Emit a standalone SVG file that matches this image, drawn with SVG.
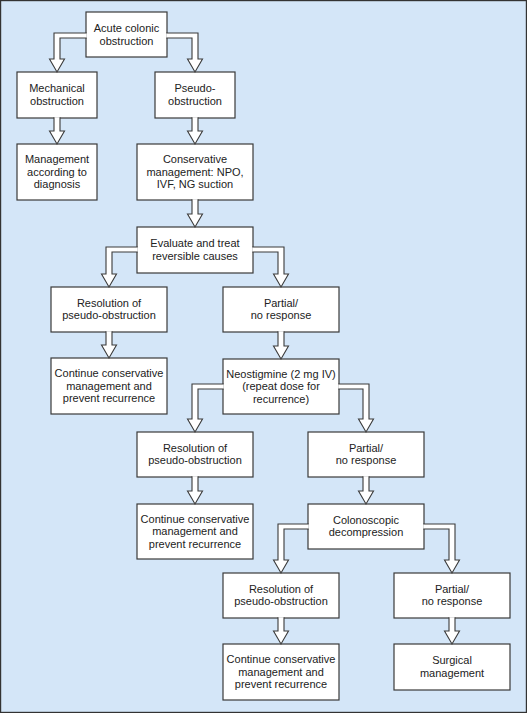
<svg xmlns="http://www.w3.org/2000/svg" width="527" height="713" viewBox="0 0 527 713">
<style>
.bg{fill:#d4e6f8;stroke:#333;stroke-width:1.2}
.box rect{fill:#fff;stroke:#3a3a3a;stroke-width:1.2}
.box text{font-family:"Liberation Sans",Arial,sans-serif;font-size:11px;fill:#222;text-anchor:middle}
#connectors path{fill:#fff;stroke:#3a3a3a;stroke-width:1.1;stroke-linejoin:miter}
</style>
<rect class="bg" x="0.6" y="0.6" width="525.8" height="711.8"/>
<g id="n1" class="box"><rect x="86" y="12" width="81" height="45"/><text x="126.5" y="32">Acute colonic</text><text x="126.5" y="44.5">obstruction</text></g>
<g id="n2" class="box"><rect x="17" y="72" width="80" height="46"/><text x="57" y="92">Mechanical</text><text x="57" y="104.5">obstruction</text></g>
<g id="n3" class="box"><rect x="155" y="72" width="80" height="46"/><text x="195" y="92">Pseudo-</text><text x="195" y="104.5">obstruction</text></g>
<g id="n4" class="box"><rect x="17" y="144" width="80" height="56"/><text x="57" y="163">Management</text><text x="57" y="175.5">according to</text><text x="57" y="188">diagnosis</text></g>
<g id="n5" class="box"><rect x="137" y="144" width="116" height="56"/><text x="195" y="163">Conservative</text><text x="195" y="175.5">management: NPO,</text><text x="195" y="188">IVF, NG suction</text></g>
<g id="n6" class="box"><rect x="137" y="227" width="116" height="46"/><text x="195" y="247">Evaluate and treat</text><text x="195" y="259.5">reversible causes</text></g>
<g id="n7" class="box"><rect x="51" y="287" width="116" height="45"/><text x="109" y="306.5">Resolution of</text><text x="109" y="319">pseudo-obstruction</text></g>
<g id="n8" class="box"><rect x="223" y="287" width="116" height="45"/><text x="281" y="306.5">Partial/</text><text x="281" y="319">no response</text></g>
<g id="n9" class="box"><rect x="51" y="358" width="116" height="56"/><text x="109" y="377">Continue conservative</text><text x="109" y="389.5">management and</text><text x="109" y="402">prevent recurrence</text></g>
<g id="n10" class="box"><rect x="223" y="359" width="116" height="55"/><text x="281" y="377.5">Neostigmine (2 mg IV)</text><text x="281" y="390">(repeat dose for</text><text x="281" y="402.5">recurrence)</text></g>
<g id="n11" class="box"><rect x="137" y="432" width="116" height="45"/><text x="195" y="451.5">Resolution of</text><text x="195" y="464">pseudo-obstruction</text></g>
<g id="n12" class="box"><rect x="308" y="432" width="116" height="45"/><text x="366" y="451.5">Partial/</text><text x="366" y="464">no response</text></g>
<g id="n13" class="box"><rect x="137" y="504" width="116" height="55"/><text x="195" y="522.5">Continue conservative</text><text x="195" y="535">management and</text><text x="195" y="547.5">prevent recurrence</text></g>
<g id="n14" class="box"><rect x="308" y="504" width="116" height="45"/><text x="366" y="523.5">Colonoscopic</text><text x="366" y="536">decompression</text></g>
<g id="n15" class="box"><rect x="223" y="573" width="116" height="45"/><text x="281" y="592.5">Resolution of</text><text x="281" y="605">pseudo-obstruction</text></g>
<g id="n16" class="box"><rect x="394" y="573" width="116" height="45"/><text x="452" y="592.5">Partial/</text><text x="452" y="605">no response</text></g>
<g id="n17" class="box"><rect x="223" y="644" width="116" height="56"/><text x="281" y="663">Continue conservative</text><text x="281" y="675.5">management and</text><text x="281" y="688">prevent recurrence</text></g>
<g id="n18" class="box"><rect x="394" y="644" width="116" height="46"/><text x="452" y="664">Surgical</text><text x="452" y="676.5">management</text></g>
<g id="connectors">
<path d="M86.7,33 H54 V59 H49.5 L57,72 L64.5,59 H60 V38 H86.7"/>
<path d="M166.3,33 H198 V59 H202.5 L195,72 L187.5,59 H192 V38 H166.3"/>
<path d="M54,117.3 V131 H49.5 L57,144 L64.5,131 H60 V117.3"/>
<path d="M192,117.3 V131 H187.5 L195,144 L202.5,131 H198 V117.3"/>
<path d="M192,199.3 V214 H187.5 L195,227 L202.5,214 H198 V199.3"/>
<path d="M137.7,247 H106 V274 H101.5 L109,287 L116.5,274 H112 V252 H137.7"/>
<path d="M252.3,247 H284 V274 H288.5 L281,287 L273.5,274 H278 V252 H252.3"/>
<path d="M106,331.3 V345 H101.5 L109,358 L116.5,345 H112 V331.3"/>
<path d="M278,331.3 V346 H273.5 L281,359 L288.5,346 H284 V331.3"/>
<path d="M223.7,384 H192 V419 H187.5 L195,432 L202.5,419 H198 V389 H223.7"/>
<path d="M338.3,384 H369 V419 H373.5 L366,432 L358.5,419 H363 V389 H338.3"/>
<path d="M192,476.3 V491 H187.5 L195,504 L202.5,491 H198 V476.3"/>
<path d="M363,476.3 V491 H358.5 L366,504 L373.5,491 H369 V476.3"/>
<path d="M308.7,524 H278 V560 H273.5 L281,573 L288.5,560 H284 V529 H308.7"/>
<path d="M423.3,524 H455 V560 H459.5 L452,573 L444.5,560 H449 V529 H423.3"/>
<path d="M278,617.3 V631 H273.5 L281,644 L288.5,631 H284 V617.3"/>
<path d="M449,617.3 V631 H444.5 L452,644 L459.5,631 H455 V617.3"/>
</g>
</svg>
